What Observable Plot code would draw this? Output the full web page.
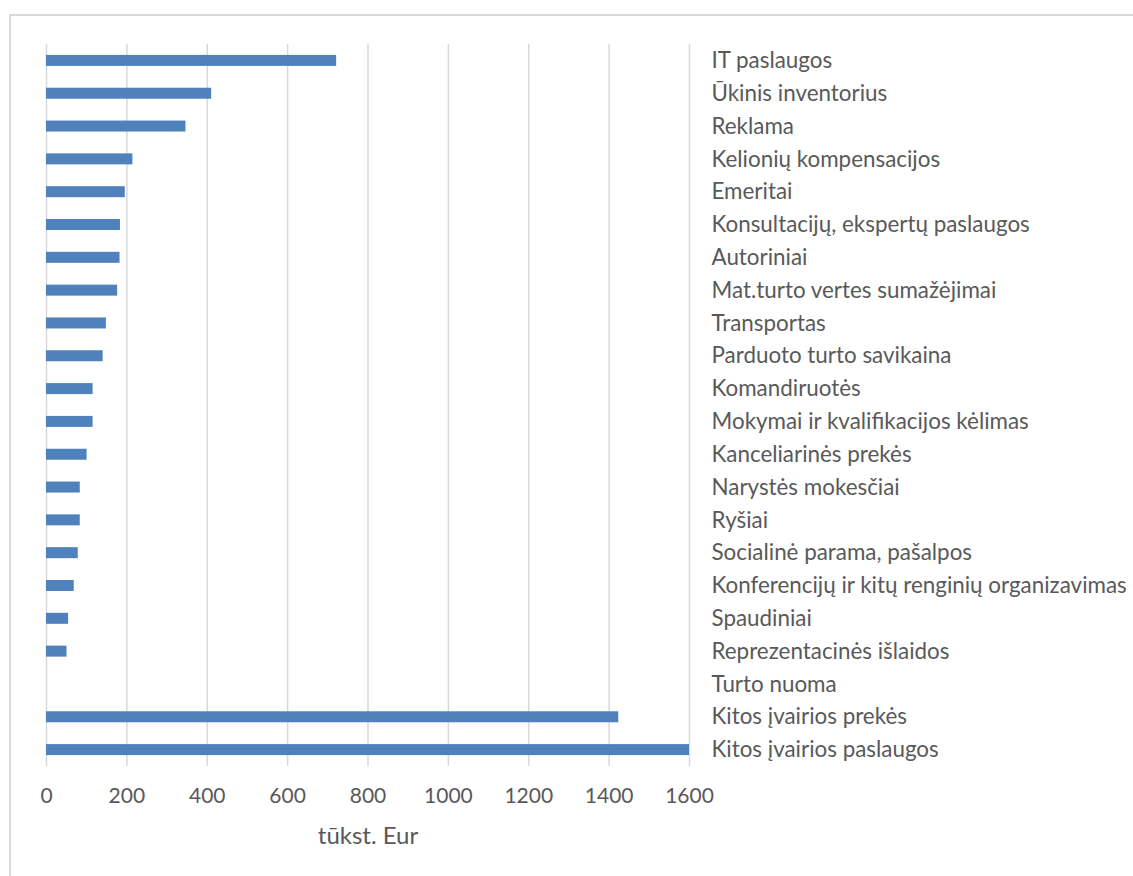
<!DOCTYPE html>
<html>
<head>
<meta charset="utf-8">
<script src="https://cdn.jsdelivr.net/npm/d3@7"></script>
<script src="https://cdn.jsdelivr.net/npm/@observablehq/plot@0.6"></script>
<style>
  html, body { margin: 0; padding: 0; background: #fff; }
  #wrap { position: relative; width: 1133px; height: 876px; overflow: hidden; }
  #border { position: absolute; left: 9px; top: 14px; width: 1200px; height: 1000px;
            border-left: 2px solid #d9d9d9; border-top: 2px solid #d9d9d9; }
  #chart { position: absolute; left: 0; top: 0; }
</style>
</head>
<body>
<div id="wrap"><div id="border"></div><div id="chart"></div></div>
<script>
const categories = [
  "IT paslaugos",
  "Ūkinis inventorius",
  "Reklama",
  "Kelionių kompensacijos",
  "Emeritai",
  "Konsultacijų, ekspertų paslaugos",
  "Autoriniai",
  "Mat.turto vertes sumažėjimai",
  "Transportas",
  "Parduoto turto savikaina",
  "Komandiruotės",
  "Mokymai ir kvalifikacijos kėlimas",
  "Kanceliarinės prekės",
  "Narystės mokesčiai",
  "Ryšiai",
  "Socialinė parama, pašalpos",
  "Konferencijų ir kitų renginių organizavimas",
  "Spaudiniai",
  "Reprezentacinės išlaidos",
  "Turto nuoma",
  "Kitos įvairios prekės",
  "Kitos įvairios paslaugos"
];
const values = [722, 411, 347, 215, 196, 184, 183, 177, 149, 141, 116, 116, 101, 84, 84, 79, 69, 55, 51, 0, 1424, 1600];
const xTicks = [0, 200, 400, 600, 800, 1000, 1200, 1400, 1600];
const xLabel = "tūkst. Eur";

const data = categories.map((c, i) => ({category: c, value: values[i]}));
const font = "Lato, 'Open Sans', sans-serif";

const chart = Plot.plot({
  width: 1133,
  height: 876,
  marginLeft: 46,
  marginRight: 444,
  marginTop: 44,
  marginBottom: 110,
  style: {fontFamily: font, fontSize: "22px", color: "#595959", background: "transparent"},
  x: {domain: [0, 1600], ticks: xTicks},
  y: {domain: categories, paddingInner: 0.665, paddingOuter: 0.3325, round: false},
  marks: [
    Plot.gridX(xTicks, {stroke: "#d9d9d9", strokeOpacity: 1, strokeWidth: 1.5}),
    Plot.barX(data, {y: "category", x: "value", fill: "#4f81bd", insetTop: 0, insetBottom: 0}),
    Plot.axisX(xTicks, {anchor: "bottom", tickSize: 0, tickPadding: 22, label: null, fontSize: 21, fill: "#595959", tickFormat: d => String(d)}),
    Plot.axisY({anchor: "right", tickSize: 0, tickPadding: 22, label: null, fontSize: 22.4, fill: "#595959"}),
    Plot.text([xLabel], {frameAnchor: "bottom", dy: 77, fontSize: 24, fill: "#595959"})
  ]
});
document.getElementById("chart").appendChild(chart);
</script>
</body>
</html>
